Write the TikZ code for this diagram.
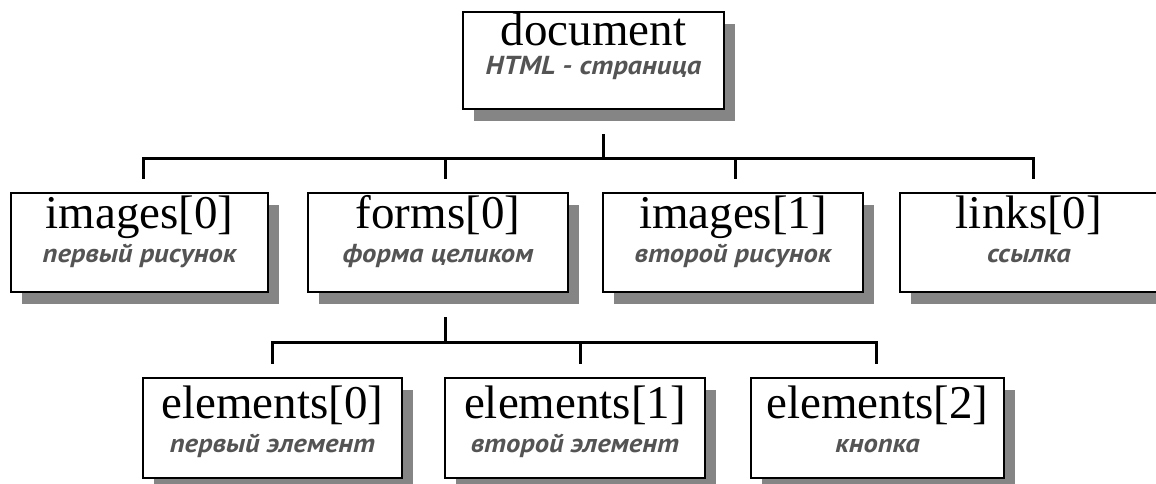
\documentclass[tikz,border=0pt]{standalone}
\usepackage{fontspec}
\setmainfont{Liberation Serif}
\newfontfamily\subfont[FakeStretch=1.1]{PT Sans}
\usetikzlibrary{shadows}
\definecolor{shadowgray}{gray}{0.52}
\definecolor{subgray}{gray}{0.33}
\tikzset{
  box/.style={draw, line width=2pt, fill=white, rectangle, inner sep=0pt,
    minimum width=#1,
    drop shadow={shadow xshift=11pt, shadow yshift=-12pt, fill=shadowgray, opacity=1}},
  title/.style={anchor=base, inner sep=0pt, font=\fontsize{47}{50}\selectfont},
  subtitle/.style={anchor=base, inner sep=0pt, text=subgray,
    font=\subfont\bfseries\itshape\fontsize{26}{28}\selectfont},
  conn/.style={line width=3pt, line cap=rect, line join=miter},
}
\begin{document}
\begin{tikzpicture}[x=1pt,y=-1pt]
\clip (0,0) rectangle (1156,484);
\useasboundingbox (0,0) rectangle (1156,484);
\fill[white] (0,0) rectangle (1156,484);

% boxes
\node[box=261pt, minimum height=97pt] (doc) at (593.5,60.5) {};
\node[box=257pt, minimum height=99pt] (img0) at (139.5,242.5) {};
\node[box=260pt, minimum height=99pt] (forms) at (438,242.5) {};
\node[box=260pt, minimum height=99pt] (img1) at (733,242.5) {};
\node[box=258pt, minimum height=99pt] (links) at (1029,242.5) {};
\node[box=259pt, minimum height=100pt] (el0) at (272.5,428) {};
\node[box=260pt, minimum height=100pt] (el1) at (575,428) {};
\node[box=253pt, minimum height=100pt] (el2) at (877.5,428) {};

% texts
\node[title] (docT) at ([yshift=-35pt]doc.north) {document};
\node[subtitle] (docS) at ([yshift=-64pt]doc.north) {HTML - страница};
\node[title] (img0T) at ([yshift=-36pt]img0.north) {images[0]};
\node[subtitle] (img0S) at ([yshift=-70pt]img0.north) {первый рисунок};
\node[title] (formsT) at ([yshift=-36pt]forms.north) {forms[0]};
\node[subtitle] (formsS) at ([yshift=-70pt]forms.north) {форма целиком};
\node[title] (img1T) at ([yshift=-36pt]img1.north) {images[1]};
\node[subtitle] (img1S) at ([yshift=-70pt]img1.north) {второй рисунок};
\node[title] (linksT) at ([yshift=-36pt]links.north) {links[0]};
\node[subtitle] (linksS) at ([yshift=-70pt]links.north) {ссылка};
\node[title] (el0T) at ([yshift=-41pt]el0.north) {elements[0]};
\node[subtitle] (el0S) at ([yshift=-75pt]el0.north) {первый элемент};
\node[title] (el1T) at ([yshift=-41pt]el1.north) {elements[1]};
\node[subtitle] (el1S) at ([yshift=-75pt]el1.north) {второй элемент};
\node[title] (el2T) at ([yshift=-41pt]el2.north) {elements[2]};
\node[subtitle] (el2S) at ([yshift=-75pt]el2.north) {кнопка};

% bus 1
\coordinate (s1a) at (603,136);
\coordinate (s1b) at (603,158);
\coordinate (h1a) at (143,158);
\coordinate (h1b) at (445,158);
\coordinate (h1c) at (735,158);
\coordinate (h1d) at (1033,158);
\coordinate (d1a) at (143,177);
\coordinate (d1b) at (445,177);
\coordinate (d1c) at (735,177);
\coordinate (d1d) at (1033,177);
\draw[conn] (d1a) -- (h1a) -- (h1d) -- (d1d);
\draw[conn] (s1a) -- (s1b);
\draw[conn] (h1b) -- (d1b);
\draw[conn] (h1c) -- (d1c);

% bus 2
\coordinate (s2a) at (445,318);
\coordinate (s2b) at (445,342);
\coordinate (h2a) at (272,342);
\coordinate (h2b) at (580,342);
\coordinate (h2c) at (876,342);
\coordinate (d2a) at (272,362);
\coordinate (d2b) at (580,362);
\coordinate (d2c) at (876,362);
\draw[conn] (d2a) -- (h2a) -- (h2c) -- (d2c);
\draw[conn] (s2a) -- (s2b);
\draw[conn] (h2b) -- (d2b);
\end{tikzpicture}
\end{document}
